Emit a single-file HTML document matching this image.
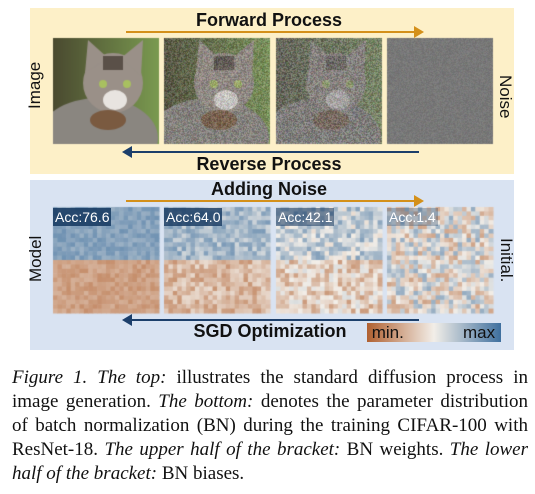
<!DOCTYPE html>
<html><head><meta charset="utf-8"><style>
body{margin:0;width:535px;height:494px;background:#fff;position:relative;overflow:hidden;font-family:"Liberation Sans",sans-serif}
.abs{position:absolute}
.t{position:absolute;font-weight:bold;font-size:18px;color:#111;text-align:center;white-space:nowrap}
.v{position:absolute;font-size:17px;color:#111;white-space:nowrap}
.acc{position:absolute;background:rgba(20,55,95,0.85);color:#fff;font-size:14px;padding:0 2px;height:18px;line-height:18px}
.cap{position:absolute;left:12px;top:366px;width:516px;font-family:"Liberation Serif",serif;font-size:19px;line-height:24px;text-align:justify;color:#111}
</style></head><body>
<div class="abs" style="left:30px;top:8px;width:484px;height:166px;background:#fdf0c8"></div>
<div class="abs" style="left:30px;top:180px;width:484px;height:170px;background:#d9e3f2"></div>
<div class="t" style="left:169px;top:10px;width:200px">Forward Process</div>
<div class="t" style="left:169px;top:154px;width:200px">Reverse Process</div>
<div class="t" style="left:169px;top:179px;width:200px">Adding Noise</div>
<div class="t" style="left:170px;top:321px;width:200px">SGD Optimization</div>
<svg class="abs" style="left:0;top:0" width="535" height="360">
<line x1="126" y1="32" x2="416" y2="32" stroke="#d4901a" stroke-width="2"/><polygon points="414,26 424,32 414,38" fill="#d4901a"/>
<line x1="130" y1="152" x2="419" y2="152" stroke="#1c3f6b" stroke-width="2"/><polygon points="132,146 122,152 132,158" fill="#1c3f6b"/>
<line x1="126" y1="201" x2="416" y2="201" stroke="#d4901a" stroke-width="2"/><polygon points="414,195 424,201 414,207" fill="#d4901a"/>
<line x1="130" y1="320" x2="419" y2="320" stroke="#1c3f6b" stroke-width="2"/><polygon points="132,314 122,320 132,326" fill="#1c3f6b"/>
<defs><linearGradient id="g"><stop offset="0" stop-color="#b06030"/><stop offset="0.5" stop-color="#f2eee8"/><stop offset="1" stop-color="#3e6f9e"/></linearGradient></defs>
<rect x="367" y="323" width="134" height="19" fill="url(#g)"/>
</svg>
<div class="v" style="left:367px;top:323px;line-height:19px;color:#111">&nbsp;min.</div>
<div class="v" style="left:463px;top:323px;line-height:19px">max</div>
<div class="v" style="left:18px;top:82px;transform:rotate(-90deg);width:34px;text-align:center">Image</div>
<div class="v" style="left:488px;top:82px;transform:rotate(90deg);width:34px;text-align:center">Noise</div>
<div class="v" style="left:14px;top:250px;transform:rotate(-90deg);width:44px;text-align:center">Model</div>
<div class="v" style="left:484px;top:250px;transform:rotate(90deg);width:44px;text-align:center">Initial.</div>
<canvas id="c" class="abs" style="left:0;top:0" width="535" height="360"></canvas>
<div class="acc" style="left:53px;top:208px">Acc:76.6</div>
<div class="acc" style="left:164px;top:208px;background:rgba(20,55,95,0.8)">Acc:64.0</div>
<div class="acc" style="left:276px;top:208px;background:rgba(20,55,95,0.55)">Acc:42.1</div>
<div class="acc" style="left:387px;top:208px;background:rgba(20,55,95,0.3)">Acc:1.4</div>
<div class="cap"><i>Figure 1. The top:</i> illustrates the standard diffusion process in image generation. <i>The bottom:</i> denotes the parameter distribution of batch normalization (BN) during the training CIFAR-100 with ResNet-18. <i>The upper half of the bracket:</i> BN weights. <i>The lower half of the bracket:</i> BN biases.</div>
<script>
var c=document.getElementById('c').getContext('2d');
var xs=[53,164,276,387],W=106,H=106;
function seed(s){return function(){s=(s*16807)%2147483647;return s/2147483647;}}
var r=seed(7);
function cat(x,y){
 c.save();c.beginPath();c.rect(x,y,W,H);c.clip();
 var g=c.createLinearGradient(x,y,x+W,y);g.addColorStop(0,'#4a4a30');g.addColorStop(1,'#7a9a50');
 c.fillStyle=g;c.fillRect(x,y,W,H);
 c.fillStyle='#8a8680';c.beginPath();c.ellipse(x+45,y+100,60,40,0,0,7);c.fill();
 c.fillStyle='#9a9088';c.beginPath();c.ellipse(x+60,y+45,30,30,0,0,7);c.fill();
 c.beginPath();c.moveTo(x+32,y+35);c.lineTo(x+35,y+2);c.lineTo(x+55,y+20);c.fill();
 c.beginPath();c.moveTo(x+68,y+20);c.lineTo(x+90,y+2);c.lineTo(x+88,y+38);c.fill();
 c.fillStyle='#5a5048';c.fillRect(x+50,y+18,20,14);
 c.fillStyle='#e8e4e0';c.beginPath();c.ellipse(x+62,y+62,12,10,0,0,7);c.fill();
 c.fillStyle='#7a5a40';c.beginPath();c.ellipse(x+55,y+82,18,10,0,0,7);c.fill();
 c.fillStyle='#a8c060';c.beginPath();c.arc(x+50,y+46,4,0,7);c.arc(x+74,y+46,4,0,7);c.fill();
 c.restore();
}
for(var i=0;i<3;i++)cat(xs[i],38);
c.fillStyle='#7e7e7e';c.fillRect(xs[3],38,W,H);
var amt=[0,0.3,0.6,1],nz=[0,40,45,14];
for(var i=1;i<4;i++){var d=c.getImageData(xs[i],38,W,H);for(var p=0;p<d.data.length;p+=4){var L=(r()-0.5)*nz[i]*2;for(var k=0;k<3;k++){var v=d.data[p+k];var n=L*0.7+(r()-0.5)*nz[i]*0.6;v=v*(1-amt[i])+120*amt[i]+n;d.data[p+k]=v;}}c.putImageData(d,xs[i],38);}
function col(t){
 var a=[176,96,48],m=[242,238,232],b=[62,111,158];var e=t<0?a:b,u=Math.abs(Math.max(-1,Math.min(1,t)));
 return 'rgb('+[0,1,2].map(function(k){return Math.round(m[k]+(e[k]-m[k])*u)}).join(',')+')';}
var N=24,cs=W/N;
for(var i=0;i<4;i++){for(var yy=0;yy<N;yy++)for(var xx=0;xx<N;xx++){
 var base=(yy<12?0.6:-0.55)*(1-amt[i]);var t=base+(r()-0.5)*(0.25+amt[i]*0.8);
 c.fillStyle=col(t);c.fillRect(xs[i]+xx*cs,207+yy*cs,cs+0.5,cs+0.5);}}
</script>
</body></html>
